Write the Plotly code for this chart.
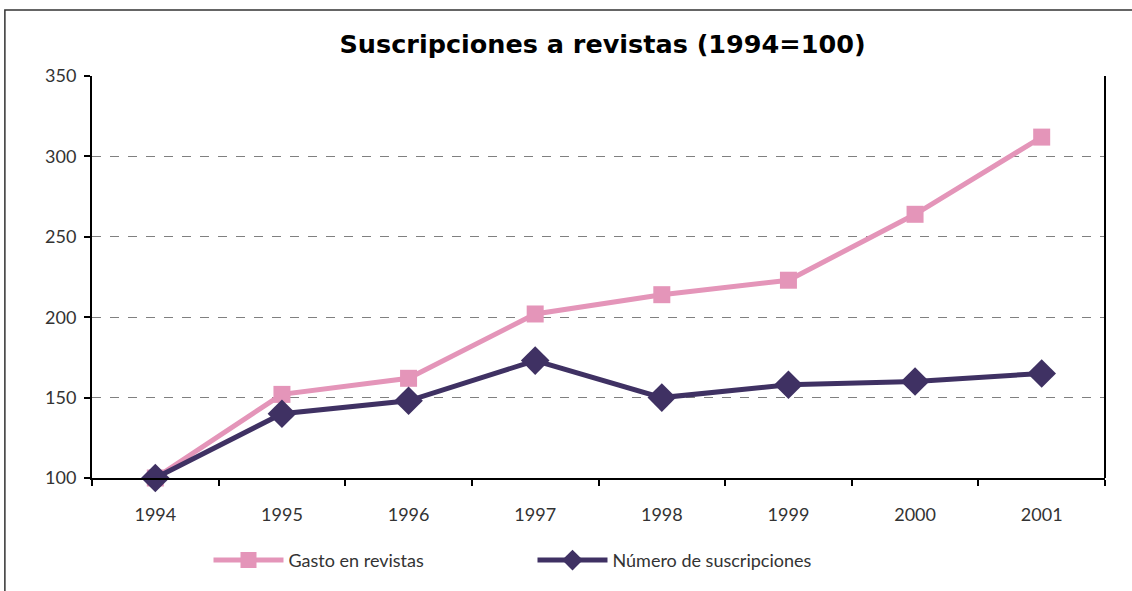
import plotly.graph_objects as go

years = ["1994", "1995", "1996", "1997", "1998", "1999", "2000", "2001"]
gasto = [100, 152, 162, 202, 214, 223, 264, 312]
numero = [100, 140, 148, 173, 150, 158, 160, 165]
title_text = "Suscripciones a revistas (1994=100)"
name_gasto = "Gasto en revistas"
name_numero = "Número de suscripciones"

pink = "#E495B9"
purple = "#3F3163"

fig = go.Figure()
fig.add_trace(go.Scatter(
    x=years, y=gasto, name=name_gasto, mode="lines+markers",
    line=dict(color=pink, width=5),
    marker=dict(symbol="square", size=17, color=pink),
    cliponaxis=False,
))
fig.add_trace(go.Scatter(
    x=years, y=numero, name=name_numero, mode="lines+markers",
    line=dict(color=purple, width=5),
    marker=dict(symbol="diamond", size=22, color=purple),
    cliponaxis=False,
))

fig.update_layout(
    width=1132, height=591,
    margin=dict(l=92, r=27, t=76, b=113),
    paper_bgcolor="white", plot_bgcolor="white",
    font=dict(family="Lato", size=18, color="#333333"),
    title=dict(text=title_text, xref="paper", x=0.504, xanchor="center", y=0.925, yanchor="middle",
               font=dict(family="DejaVu Sans", size=25.5, color="black", weight="bold")),
    showlegend=True,
    legend=dict(orientation="h", x=0.115, xanchor="left", y=-0.205, yanchor="middle",
                itemwidth=70, font=dict(size=18, family="Lato"),
                entrywidth=239, entrywidthmode="pixels"),
    xaxis=dict(
        type="category", range=[-0.5, 7.5],
        showline=True, linecolor="black", linewidth=2,
        ticks="outside", ticklen=6, tickcolor="black", tickwidth=1.5,
        tickson="boundaries", showgrid=False, zeroline=False,
        tickfont=dict(size=18), ticklabelstandoff=19,
    ),
    yaxis=dict(
        range=[100, 350], dtick=50,
        showline=True, linecolor="black", linewidth=2, mirror=False,
        ticks="outside", ticklen=6, tickcolor="black", tickwidth=1.5,
        showgrid=True, gridcolor="#808080", griddash="dash", gridwidth=1,
        zeroline=False, tickfont=dict(size=18), ticklabelstandoff=4,
    ),
    shapes=[
        dict(type="line", xref="paper", yref="paper", x0=1, x1=1, y0=0, y1=1,
             line=dict(color="black", width=2)),
        dict(type="rect", xref="paper", yref="paper", x0=-0.086, x1=1.05, y0=-0.3, y1=1.164,
             line=dict(color="#333333", width=1.5), layer="below"),
    ],
)

fig.write_html("out.html", config={"displayModeBar": False},
               post_script="document.body.style.margin='0';")
